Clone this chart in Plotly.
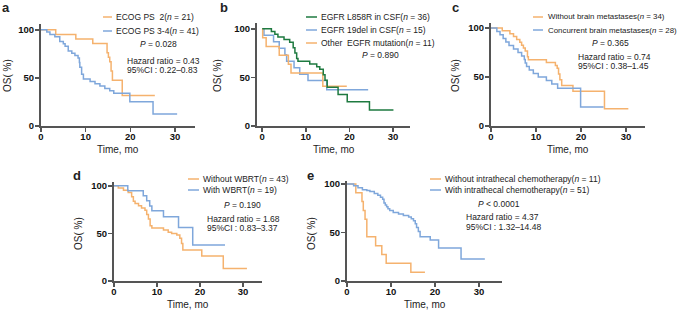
import plotly.graph_objects as go

W, H = 685, 310
ORANGE = "#F5B26E"
BLUE = "#7FA7DB"
GREEN = "#1E7A40"
AX = "#555555"
FONT = "Liberation Sans, Arial, sans-serif"

# ---------------- data ----------------
# a: ECOG PS
a_ecog2_t = [0, 3.3, 7.8, 11.6, 14.8, 15.1, 15.4, 15.7, 16.0, 18.2, 25.5]
a_ecog2_s = [100, 95.2, 90.5, 85.7, 76.2, 71.4, 66.7, 57.1, 47.6, 31.7, 31.7]
a_ecog34_t = [0, 1.3, 2.0, 3.1, 4.2, 5.0, 5.4, 6.1, 6.9, 7.6, 8.3, 8.6, 8.7, 9.1, 9.5,
              11.0, 12.1, 13.2, 14.3, 15.4, 16.3, 19.9, 25.1, 30.5]
a_ecog34_s = [100, 97.6, 95.1, 92.7, 87.8, 85.4, 82.9, 78.0, 75.6, 73.2, 70.7, 65.9, 61.0, 53.7, 48.8,
              46.3, 43.9, 41.5, 39.0, 36.6, 34.0, 25.1, 12.6, 12.6]

# b: EGFR mutation type
b_l858r_t = [0, 2.1, 2.9, 3.6, 5.0, 6.3, 7.1, 7.5, 7.9, 8.2, 10.9, 12.5, 13.2, 14.0, 14.4, 14.9,
             17.4, 19.5, 24.6, 30.1]
b_l858r_s = [100, 97.2, 94.4, 91.7, 88.9, 86.1, 80.6, 75.0, 69.4, 66.7, 63.9, 61.1, 58.3, 52.8, 47.2, 40.0,
             32.5, 25.0, 16.5, 16.5]
b_19del_t = [0, 0.4, 2.6, 3.9, 5.2, 5.6, 7.3, 8.6, 10.5, 14.8, 24.3]
b_19del_s = [100, 93.3, 86.7, 80.0, 73.3, 66.7, 60.0, 53.3, 46.7, 37.3, 37.3]
b_other_t = [0, 0.1, 0.9, 3.9, 6.0, 6.6, 13.9, 19.4]
b_other_s = [100, 90.9, 81.8, 72.7, 63.6, 54.5, 40.9, 40.9]

# c: brain metastases
c_without_t = [0, 2.5, 4.2, 5.0, 5.7, 6.4, 6.8, 7.2, 7.6, 8.1, 8.3, 12.3, 14.3, 14.7, 15.0, 15.3, 15.7,
               18.2, 25.2, 30.5]
c_without_s = [100, 97.1, 94.1, 91.2, 88.2, 85.3, 82.4, 79.4, 76.5, 70.6, 67.6, 64.7, 61.8, 58.8, 52.9, 47.1, 41.2,
               35.3, 17.6, 17.6]
c_concur_t = [0, 1.3, 2.0, 2.7, 3.3, 4.0, 5.0, 6.0, 6.8, 7.4, 7.6, 7.9, 8.5, 9.4, 10.5, 12.3, 13.5, 14.8,
              19.9, 25.0]
c_concur_s = [100, 96.4, 92.9, 89.3, 85.7, 82.1, 78.6, 75.0, 71.4, 67.9, 64.3, 60.7, 57.1, 53.6, 50.0, 46.4, 42.9, 38.6,
              19.3, 19.3]

# d: WBRT
d_without_t = [0, 1.0, 2.2, 3.3, 4.1, 4.5, 4.9, 5.7, 6.4, 7.2, 7.6, 8.0, 8.4, 8.8, 11.5, 12.6, 13.4, 14.6,
               15.3, 15.7, 16.0, 20.4, 25.4, 30.9]
d_without_s = [100, 97.7, 95.3, 93.0, 88.4, 83.7, 81.4, 79.1, 76.7, 74.4, 69.8, 65.1, 58.1, 55.8, 53.5, 51.2, 50.0, 48.4,
               44.9, 39.5, 32.6, 26.3, 13.2, 13.2]
d_with_t = [0, 3.2, 6.8, 7.6, 8.3, 8.8, 11.5, 15.0, 18.3, 25.8]
d_with_s = [100, 94.7, 89.5, 84.2, 78.9, 73.7, 67.4, 56.2, 37.9, 37.9]

# e: intrathecal chemotherapy
e_without_t = [0, 2.0, 3.4, 3.7, 4.1, 4.5, 6.5, 7.9, 8.9, 14.5, 17.7]
e_without_s = [100, 90.9, 81.8, 72.7, 63.6, 45.5, 36.4, 27.3, 18.2, 9.1, 9.1]
e_with_t = [0, 1.5, 2.5, 3.5, 4.5, 5.2, 6.2, 7.0, 7.6, 8.1, 8.4, 8.7, 9.0, 9.3, 9.7, 10.5, 11.7, 12.8,
            14.0, 14.6, 15.1, 15.5, 15.8, 16.2, 16.6, 18.9, 20.8, 25.9, 31.3]
e_with_s = [100, 98.0, 96.1, 94.1, 93.1, 92.2, 90.2, 88.2, 86.3, 84.3, 80.4, 78.4, 76.5, 74.5, 72.5, 70.6, 69.0, 67.5,
            66.0, 64.0, 62.0, 59.0, 55.0, 51.0, 45.7, 42.3, 33.9, 22.6, 22.6]

x_ticks = [0, 10, 20, 30]
y_ticks = [0, 50, 100]

panel_letters = ["a", "b", "c", "d", "e"]
legend_a = ["ECOG PS&nbsp; 2(<i>n</i> = 21)", "ECOG PS 3-4(<i>n</i> = 41)"]
legend_b = ["EGFR L858R in CSF(<i>n</i> = 36)", "EGFR 19del in CSF(<i>n</i> = 15)",
            "Other&nbsp; EGFR mutation(<i>n</i> = 11)"]
legend_c = ["Without brain metastases(<i>n</i> = 34)", "Concurrent brain metastases(<i>n</i> = 28)"]
legend_d = ["Without WBRT(<i>n</i> = 43)", "With WBRT(<i>n</i> = 19)"]
legend_e = ["Without intrathecal chemotherapy(<i>n</i> = 11)", "With intrathecal chemotherapy(<i>n</i> = 51)"]
p_texts = ["<i>P</i> = 0.028", "<i>P</i> = 0.890", "<i>P</i> = 0.365", "<i>P</i> = 0.190", "<i>P</i> &lt; 0.0001"]
hr_texts = ["Hazard ratio = 0.43", None, "Hazard ratio = 0.74", "Hazard ratio = 1.68", "Hazard ratio = 4.37"]
ci_texts = ["95%CI : 0.22–0.83", None, "95%CI : 0.38–1.45", "95%CI : 0.83–3.37", "95%CI : 1.32–14.48"]


def px(x):
    return x / W


def py(y):
    return 1 - y / H


# panel geometry (pixels): x-axis left/right, y-axis top/bottom, ranges
panels = [
    dict(xl=41, xr=195, yt=24, yb=126, xr_=[0, 34.5], yr_=[0, 106]),
    dict(xl=257, xr=410, yt=23, yb=126, xr_=[-1.2, 33.9], yr_=[0, 106]),
    dict(xl=491, xr=645, yt=23, yb=126, xr_=[0, 34.2], yr_=[0, 105]),
    dict(xl=114, xr=262, yt=182, yb=281, xr_=[0, 34.4], yr_=[0, 104]),
    dict(xl=347, xr=502, yt=181, yb=281, xr_=[0, 35.2], yr_=[0, 103]),
]

series = [
    [(a_ecog2_t, a_ecog2_s, ORANGE), (a_ecog34_t, a_ecog34_s, BLUE)],
    [(b_19del_t, b_19del_s, BLUE), (b_other_t, b_other_s, ORANGE), (b_l858r_t, b_l858r_s, GREEN)],
    [(c_without_t, c_without_s, ORANGE), (c_concur_t, c_concur_s, BLUE)],
    [(d_without_t, d_without_s, ORANGE), (d_with_t, d_with_s, BLUE)],
    [(e_without_t, e_without_s, ORANGE), (e_with_t, e_with_s, BLUE)],
]

fig = go.Figure()
layout = dict(template="none", width=W, height=H, margin=dict(l=0, r=0, t=0, b=0, autoexpand=False),
              paper_bgcolor="white", plot_bgcolor="white", showlegend=False,
              font=dict(family=FONT, color="#222"))

for i, (p, ser) in enumerate(zip(panels, series)):
    n = "" if i == 0 else str(i + 1)
    for t, s, col in ser:
        fig.add_trace(go.Scatter(x=t, y=s, mode="lines", line=dict(color=col, width=1.5, shape="hv"),
                                 xaxis="x" + n, yaxis="y" + n, hoverinfo="skip"))
    common = dict(showline=True, linecolor=AX, linewidth=2, ticks="outside", ticklen=4, tickwidth=1.5,
                  tickcolor=AX, showgrid=False, zeroline=False, automargin=False,
                  tickfont=dict(size=9.5, family=FONT, color="#111", weight="bold"))
    layout["xaxis" + n] = dict(domain=[px(p["xl"]), px(p["xr"])], range=p["xr_"], tickvals=x_ticks,
                               anchor="y" + n, ticklabelstandoff=-3, **common)
    layout["yaxis" + n] = dict(domain=[py(p["yb"]), py(p["yt"])], range=p["yr_"], tickvals=y_ticks,
                               anchor="x" + n, ticklabelstandoff=-1, **common)

fig.update_layout(**layout)

ann = []
shapes = []


def text(x, y, s, size=8.5, anchor="left", **kw):
    ann.append(dict(x=px(x), y=py(y), xref="paper", yref="paper", text=s, showarrow=False,
                    xanchor=anchor, yanchor="middle", font=dict(size=size, family=FONT, color="#222"),
                    borderpad=0, **kw))


def leg_line(x0, x1, y, col):
    shapes.append(dict(type="line", xref="paper", yref="paper", x0=px(x0), x1=px(x1), y0=py(y), y1=py(y),
                       line=dict(color=col, width=1.5)))


# panel letters
for lt, (x, y) in zip(panel_letters, [(6, 8), (224, 8), (455, 8), (77, 175), (310, 175)]):
    text(x, y, "<b>%s</b>" % lt, size=13, anchor="center")

# axis titles
for p, (ox, oy) in zip(panels, [(8, 76), (218, 76), (456, 76), (78, 234), (311, 234)]):
    text(ox, oy, "OS( %)", size=10, anchor="center", textangle=-90)
    text((p["xl"] + p["xr"]) / 2, p["yb"] + 23, "Time, mo", size=10, anchor="center")

# legends
for (lx0, lx1, tx, rows, labels, cols, fs) in [
    (103, 112, 115, [17, 31], legend_a, [ORANGE, BLUE], 8.5),
    (306, 317, 320, [17, 30, 43], legend_b, [GREEN, BLUE, ORANGE], 8.5),
    (533, 543, 547, [17, 30], legend_c, [ORANGE, BLUE], 7.9),
    (188, 199, 202, [179, 190], legend_d, [ORANGE, BLUE], 8.5),
    (430, 441, 444, [179, 190], legend_e, [ORANGE, BLUE], 8.5),
]:
    for yy, lab, col in zip(rows, labels, cols):
        leg_line(lx0, lx1, yy, col)
        text(tx, yy, lab, size=fs)

# stats
for pt, (x, y) in zip(p_texts, [(158, 44), (380, 55), (610, 43), (242, 205), (499, 204)]):
    text(x, y, pt, anchor="center")
stat_pos = [(126, 61, 70), None, (577, 57, 66), (206, 219, 228), (465, 217, 227)]
for hr, ci, pos in zip(hr_texts, ci_texts, stat_pos):
    if hr is None or pos is None:
        continue
    x, y1, y2 = pos
    text(x, y1, hr)
    text(x, y2, ci)

fig.update_layout(annotations=ann, shapes=shapes)
fig.write_html("out.html", config={"displayModeBar": False, "staticPlot": True},
               post_script="document.body.style.margin='0';document.body.style.padding='0';")
